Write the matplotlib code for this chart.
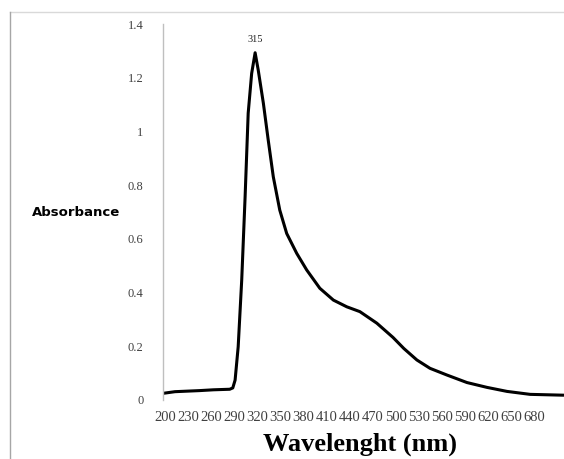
import matplotlib
matplotlib.use("Agg")
import matplotlib.pyplot as plt
from matplotlib.lines import Line2D

# ── data ─────────────────────────────────────────────────────────────────
wavelength = [198, 213, 245, 263, 284, 288, 291, 295, 299.6, 304, 308, 312.5,
              317, 321, 327.7, 334, 340.6, 349, 358, 371, 384, 401, 418.6, 436,
              453, 475, 496, 510, 527, 544, 566, 592, 618, 644, 674, 716]
absorbance = [0.025, 0.031, 0.035, 0.038, 0.040, 0.045, 0.074, 0.198, 0.447,
              0.757, 1.068, 1.216, 1.293, 1.229, 1.105, 0.968, 0.831, 0.707,
              0.620, 0.546, 0.484, 0.416, 0.372, 0.347, 0.329, 0.286, 0.233,
              0.192, 0.149, 0.118, 0.093, 0.065, 0.047, 0.032, 0.021, 0.018]
x_ticks = list(range(200, 681, 30))
y_ticks = [0, 0.2, 0.4, 0.6, 0.8, 1, 1.2, 1.4]
y_tick_labels = ["0", "0.2", "0.4", "0.6", "0.8", "1", "1.2", "1.4"]
peak_label = "315"

W, H = 564, 459
fig = plt.figure(figsize=(W / 100, H / 100), dpi=100)
fig.patch.set_facecolor("white")

# outer frame (top + left edges visible in the original)
fig.add_artist(Line2D([10 / W, 1], [1 - 12 / H, 1 - 12 / H], color="#d9d9d9", lw=1))
fig.add_artist(Line2D([10 / W, 10 / W], [0, 1 - 12 / H], color="#a6a6a6", lw=1))

ax = fig.add_axes([163 / W, 1 - 400 / H, (W - 163) / W, 376 / H])
ax.plot(wavelength, absorbance, color="black", lw=2.2, solid_joinstyle="round")

ax.set_xlim(197.4, 718)
ax.set_ylim(0, 1.4)

for s in ("top", "right", "bottom"):
    ax.spines[s].set_visible(False)
ax.spines["left"].set_color("#bfbfbf")
ax.spines["left"].set_linewidth(1)

ax.set_xticks(x_ticks)
ax.set_xticklabels([str(t) for t in x_ticks], family="Liberation Serif",
                   fontsize=10.5, color="#404040")
ax.set_yticks(y_ticks)
ax.set_yticklabels(y_tick_labels, family="Liberation Serif", fontsize=9,
                   color="#404040")
ax.tick_params(axis="both", length=0)
ax.tick_params(axis="y", pad=14)
ax.tick_params(axis="x", pad=8)

# peak annotation
i_peak = absorbance.index(max(absorbance))
ax.annotate(peak_label, (wavelength[i_peak], absorbance[i_peak]),
            xytext=(0, 6), textcoords="offset points", ha="center", va="bottom",
            family="Liberation Serif", fontsize=7.5, color="#202020")

fig.text(76 / W, 1 - 212 / H, "Absorbance", ha="center", va="center",
         fontsize=9.5, fontweight="bold", family="DejaVu Sans")
fig.text(360 / W, 1 - 444 / H, "Wavelenght (nm)", ha="center", va="center",
         fontsize=19, fontweight="bold", family="Liberation Serif")

fig.savefig("out.png", dpi=100, facecolor="white")
